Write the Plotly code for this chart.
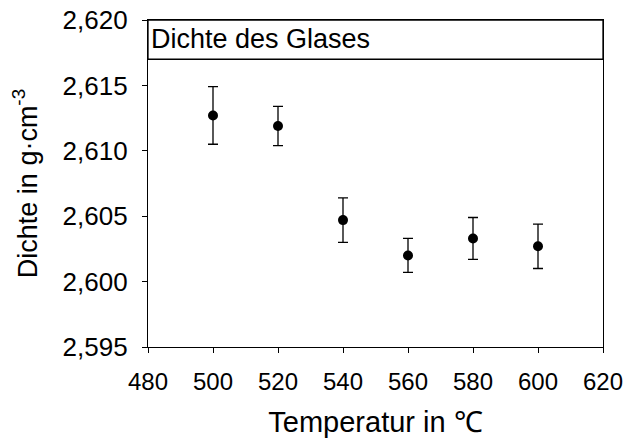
import plotly.graph_objects as go

# Temperatur in °C und gemessene Dichte mit Fehler
temperatur = [500, 520, 540, 560, 580, 600]
dichte = [2.6127, 2.6119, 2.6047, 2.6020, 2.6033, 2.6027]
fehler = [0.0022, 0.0015, 0.0017, 0.0013, 0.0016, 0.0017]

x_ticks = [480, 500, 520, 540, 560, 580, 600, 620]
y_ticks = [2.595, 2.600, 2.605, 2.610, 2.615, 2.620]

font = "Liberation Sans, Arial, sans-serif"

fig = go.Figure(go.Scatter(
    x=temperatur,
    y=dichte,
    mode="markers",
    marker=dict(color="black", size=10),
    error_y=dict(type="data", array=fehler, color="black", thickness=1.3, width=5),
    showlegend=False,
))

# Kasten mit Titel oben im Diagramm
fig.add_shape(type="rect", xref="x", yref="y", x0=480, x1=620, y0=2.617, y1=2.620,
              line=dict(color="black", width=1.3), fillcolor="white", layer="below")
fig.add_annotation(x=480, y=2.6185, xref="x", yref="y", text="Dichte des Glases",
                   showarrow=False, xanchor="left", xshift=1, yshift=1,
                   font=dict(family=font, size=27, color="black"))

fig.update_layout(
    width=628, height=441,
    margin=dict(l=148, r=25, t=20, b=94),
    plot_bgcolor="white", paper_bgcolor="white",
    separators=",.",
    font=dict(family=font, size=24, color="black"),
)
fig.update_xaxes(
    range=[480, 620], tickvals=x_ticks, ticks="outside", ticklen=5, tickwidth=1.3,
    tickcolor="black", showline=True, linecolor="black", linewidth=1.3, mirror=True,
    showgrid=False, zeroline=False, automargin=False, ticklabelstandoff=8,
    title=dict(text="Temperatur in ℃", standoff=17),
)
fig.update_yaxes(
    range=[2.595, 2.620], tickvals=y_ticks, tickformat=".3f", ticks="outside", ticklen=5,
    tickwidth=1.3, tickcolor="black", showline=True, linecolor="black", linewidth=1.3,
    mirror=True, showgrid=False, zeroline=False, automargin=False, ticklabelstandoff=9,
    tickfont=dict(size=26),
    title=dict(text="Dichte in g·cm<sup>-3</sup>", standoff=17,
               font=dict(family=font, size=27)),
)

# Seitenrand entfernen, damit die Grafik bei (0,0) beginnt
fig.write_html("out.html", config={"displayModeBar": False},
               post_script="document.body.style.margin='0';")
